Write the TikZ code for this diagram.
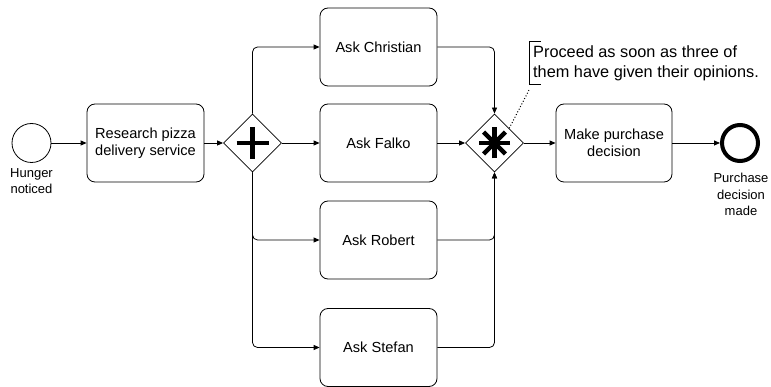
\documentclass[tikz,border=0pt]{standalone}
\usepackage{fontspec}
\setmainfont{Liberation Sans}
\usetikzlibrary{shapes.geometric,arrows.meta,positioning,calc}
\tikzset{every node/.append style={align=center}}

\begin{document}
\begin{tikzpicture}[x=1pt, y=-1pt,
    task/.style={draw, rounded corners=8pt, minimum width=117pt, minimum height=78pt, line width=0.8pt, font=\fontsize{14.6}{17}\selectfont},
    gate/.style={draw, diamond, minimum width=58pt, minimum height=58pt, inner sep=0pt, line width=0.8pt},
    gatesign/.style={line width=4.5pt},
    evlabel/.style={font=\fontsize{13}{16.5}\selectfont},
    flow/.style={-{Triangle[length=6pt,width=5pt]}, line width=0.8pt, rounded corners=5pt}]
    \useasboundingbox (0,0) rectangle (771,387);

    % Start event
    \node[draw, circle, minimum size=39pt, inner sep=0pt, line width=0.8pt] (start) at (31.5,143) {};
    \node[evlabel] (startlbl) at (31.5,181) {Hunger\\noticed};

    % Tasks
    \node[task] (research) at (145.5,143) {Research pizza\\delivery service};
    \node[task] (christian) at (378.5,47) {Ask Christian};
    \node[task] (falko) at (378.5,143) {Ask Falko};
    \node[task] (robert) at (378.5,240) {Ask Robert};
    \node[task] (stefan) at (378.5,347.5) {Ask Stefan};
    \node[task, minimum width=116pt] (decide) at (614,143) {Make purchase\\decision};

    % Parallel gateway
    \node[gate] (fork) at (252.5,143) {};
    \draw[gatesign] ($(fork)+(-16,0)$) -- ($(fork)+(16,0)$);
    \draw[gatesign] ($(fork)+(0,-16)$) -- ($(fork)+(0,16)$);

    % Complex gateway
    \node[gate] (join) at (494.5,143) {};
    \foreach \a in {0,45,90,135}
        \draw[gatesign] ($(join)+(\a:15.5)$) -- ($(join)+(\a+180:15.5)$);

    % End event
    \node[draw, circle, minimum size=36pt, inner sep=0pt, line width=4pt] (end) at (740,143) {};
    \node[evlabel] (endlbl) at (741,194.5) {Purchase\\decision\\made};

    % Annotation
    \node[anchor=west, align=left, inner xsep=4pt, font=\fontsize{16.3}{20}\selectfont] (note) at (529,63) {Proceed as soon as three of\\them have given their opinions.};
    \draw[line width=0.8pt] ($(note.north west)+(12,0)$) -- (note.north west) -- (note.south west) -- ++(12,0);
    \draw[line width=1pt, dash pattern=on 1pt off 2pt] (join.north east) -- ([yshift=-6pt]note.south west);

    % Sequence flows
    \draw[flow] (start) -- (research);
    \draw[flow] (research) -- (fork);
    \draw[flow] (fork.north) |- (christian);
    \draw[flow] (fork) -- (falko);
    \draw[flow] (fork.south) |- (robert);
    \draw[flow] (fork.south) |- (stefan);
    \draw[flow] (christian) -| (join.north);
    \draw[flow] (falko) -- (join);
    \draw[flow] (robert) -| (join.south);
    \draw[flow] (stefan) -| (join.south);
    \draw[flow] (join) -- (decide);
    \draw[flow] (decide) -- (end);
\end{tikzpicture}
\end{document}
